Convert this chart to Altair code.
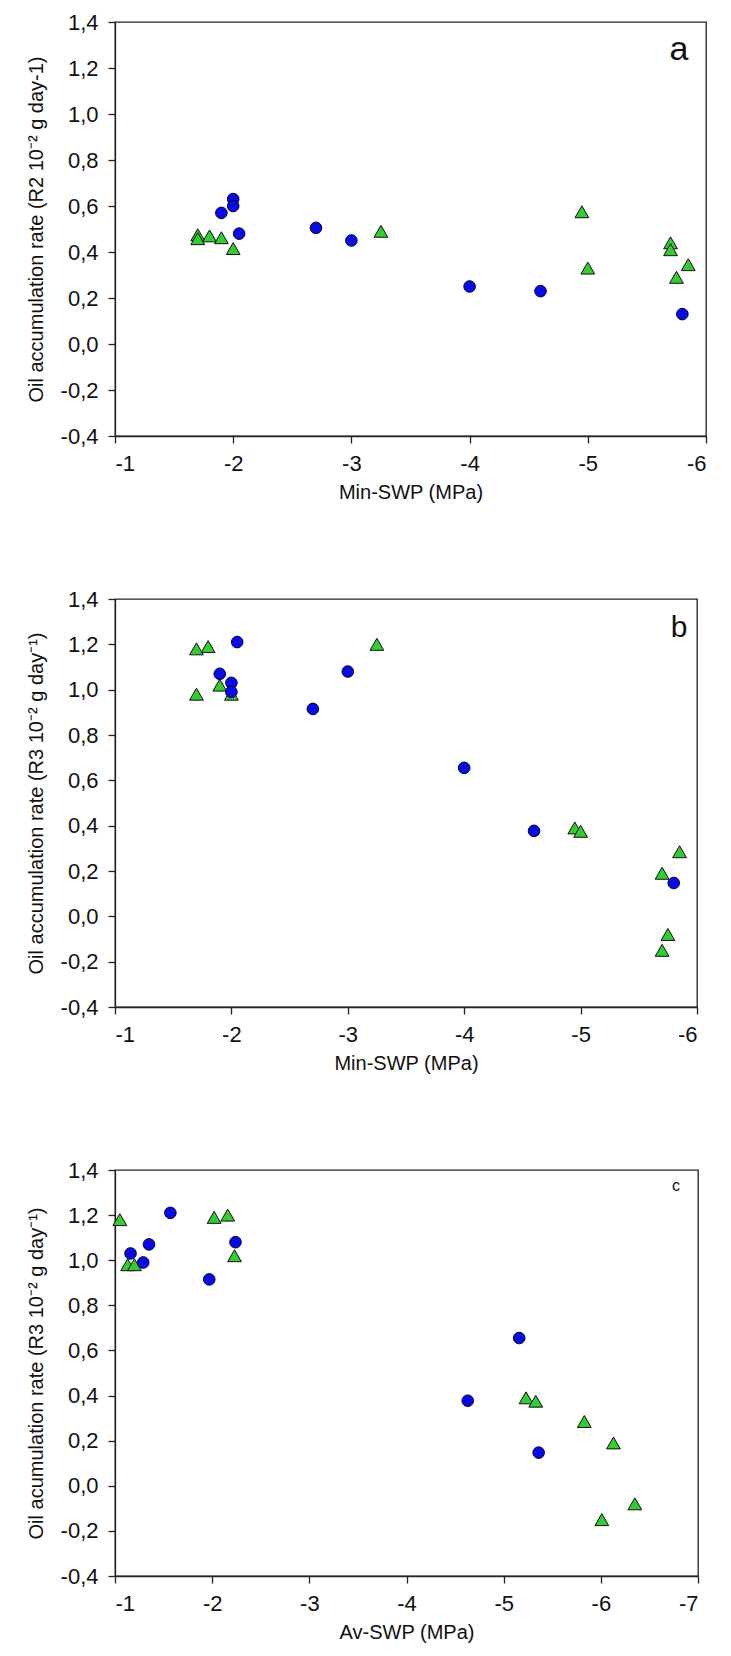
import altair as alt
import pandas as pd

# ---------------- data ----------------
# Panel a: Min-SWP vs oil accumulation rate (R2)
a_circ_x = [-2.0, -2.0, -1.9, -2.05, -2.7, -3.0, -4.0, -4.6, -5.8]
a_circ_y = [0.63, 0.60, 0.57, 0.48, 0.505, 0.45, 0.25, 0.23, 0.13]
a_tri_x = [-1.7, -1.7, -1.8, -1.9, -2.0, -3.25, -4.95, -5.0, -5.7, -5.7, -5.75, -5.85]
a_tri_y = [0.475, 0.458, 0.47, 0.462, 0.415, 0.49, 0.575, 0.33, 0.44, 0.41, 0.29, 0.345]

# Panel b: Min-SWP vs oil accumulation rate (R3)
b_circ_x = [-2.05, -1.9, -2.0, -2.0, -2.7, -3.0, -4.0, -4.6, -5.8]
b_circ_y = [1.21, 1.07, 1.03, 0.99, 0.915, 1.08, 0.655, 0.377, 0.147]
b_tri_x = [-1.7, -1.8, -1.7, -1.9, -2.0, -3.25, -4.95, -5.0, -5.7, -5.85, -5.75, -5.7]
b_tri_y = [1.18, 1.19, 0.98, 1.02, 0.98, 1.2, 0.39, 0.375, 0.19, 0.285, -0.08, -0.15]

# Panel c: Av-SWP vs oil accumulation rate (R3)
c_circ_x = [-1.57, -1.35, -1.16, -1.29, -1.97, -2.24, -5.16, -4.63, -5.36]
c_circ_y = [1.21, 1.07, 1.03, 0.99, 0.915, 1.08, 0.655, 0.377, 0.147]
c_tri_x = [-1.05, -2.02, -2.16, -1.13, -1.2, -2.23, -5.23, -5.33, -5.83, -6.13, -6.35, -6.01]
c_tri_y = [1.18, 1.19, 1.2, 0.98, 0.98, 1.02, 0.39, 0.375, 0.285, 0.19, -0.08, -0.15]

y_ticks = [-0.4, -0.2, 0.0, 0.2, 0.4, 0.6, 0.8, 1.0, 1.2, 1.4]
x_ticks_ab = [-1, -2, -3, -4, -5, -6]
x_ticks_c = [-1, -2, -3, -4, -5, -6, -7]

titles_y = [
    "Oil accumulation rate (R2 10\u207b\u00b2 g day-1)",
    "Oil accumulation rate (R3 10\u207b\u00b2 g day\u207b\u00b9)",
    "Oil acumulation rate (R3 10\u207b\u00b2 g day\u207b\u00b9)",
]
titles_x = ["Min-SWP (MPa)", "Min-SWP (MPa)", "Av-SWP (MPa)"]
letters = ["a", "b", "c"]

FONT = "Arial, Liberation Sans, sans-serif"
BLUE = "#0a0ae6"
GREEN = "#33cc33"

ylab = "(datum.value < 0 ? '-' : '') + replace(format(abs(datum.value), '.1f'), '.', ',')"
xlab = "(datum.value < 0 ? '-' : '') + format(abs(datum.value), 'd')"


def panel(cx, cy, tx, ty, xticks, xtitle, ytitle, letter, lsize, lx, ly, w, h, tpad):
    xenc = alt.X(
        "x:Q",
        scale=alt.Scale(domain=[xticks[-1], xticks[0]], reverse=True, nice=False, zero=False),
        axis=alt.Axis(values=xticks, labelExpr=xlab, title=xtitle),
    )
    yenc = alt.Y(
        "y:Q",
        scale=alt.Scale(domain=[-0.4, 1.4], nice=False, zero=False),
        axis=alt.Axis(values=y_ticks, labelExpr=ylab, title=ytitle, titlePadding=tpad),
    )
    circ = alt.Chart(pd.DataFrame({"x": cx, "y": cy})).mark_point(
        shape="circle", filled=True, fill=BLUE, stroke="#000033", strokeWidth=1,
        size=135, opacity=1
    ).encode(x=xenc, y=yenc)
    tri = alt.Chart(pd.DataFrame({"x": tx, "y": ty})).mark_point(
        shape="triangle-up", filled=True, fill=GREEN, stroke="#111111", strokeWidth=1,
        size=190, opacity=1
    ).encode(x=xenc, y=yenc)
    txt = alt.Chart(pd.DataFrame({"t": [letter]})).mark_text(
        font=FONT, fontSize=lsize, align="center", baseline="middle", color="#111111"
    ).encode(text="t:N", x=alt.value(w - lx), y=alt.value(ly))
    return alt.layer(tri, circ, txt).properties(width=w, height=h)


pa = panel(a_circ_x, a_circ_y, a_tri_x, a_tri_y, x_ticks_ab, titles_x[0], titles_y[0],
           letters[0], 34, 27, 28, 591, 414, 14)
pb = panel(b_circ_x, b_circ_y, b_tri_x, b_tri_y, x_ticks_ab, titles_x[1], titles_y[1],
           letters[1], 30, 18, 29, 582, 408, 14)
pc = panel(c_circ_x, c_circ_y, c_tri_x, c_tri_y, x_ticks_c, titles_x[2], titles_y[2],
           letters[2], 16, 22, 16, 583, 406, 14)

chart = alt.vconcat(pa, pb, pc, spacing=84).properties(
    padding={"left": 17, "top": 2, "right": 5, "bottom": 5}
).configure_axis(
    labelFont=FONT, titleFont=FONT, labelFontSize=22, titleFontSize=20,
    titleFontWeight="normal", labelColor="#111111", titleColor="#111111",
    domainColor="#222222", tickColor="#222222", domainWidth=1.3, tickWidth=1.3,
    tickSize=7, labelPadding=10, grid=False,
).configure_axisX(titlePadding=8).configure_view(
    stroke="#222222", strokeWidth=1.3
)

chart.save("out.html", embed_options={"renderer": "svg", "actions": False})
